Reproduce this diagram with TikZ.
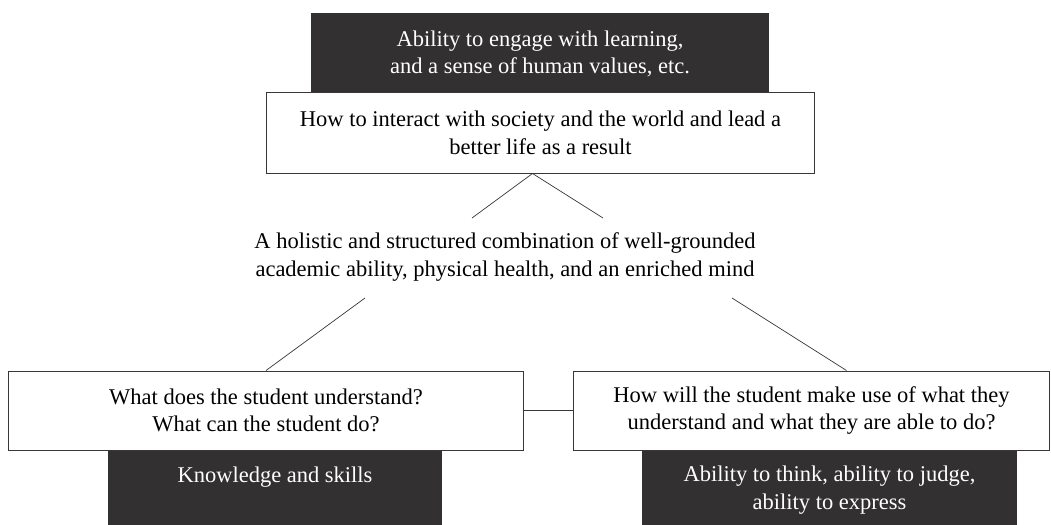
\documentclass[tikz,border=0pt]{standalone}
\usepackage{fontspec}
\setmainfont{Liberation Serif}
\usepackage{tikz}
\definecolor{boxDark}{RGB}{51, 48, 49}
\definecolor{lineGray}{RGB}{55, 55, 55}

\begin{document}
\begin{tikzpicture}[x=0.025cm, y=-0.025cm,
    font=\fontsize{16}{19.5}\selectfont,
    darkbox/.style={fill=boxDark, text=white, inner sep=0pt},
    whitebox/.style={draw=lineGray, line width=0.7pt, fill=white, align=center, inner sep=0pt},
    link/.style={draw=lineGray, line width=0.5pt}]
        \useasboundingbox (0,0) rectangle (1051,525);
        % dark labels sit behind the white boxes
        \node (goal) [darkbox, align=center, minimum width=11.45cm, minimum height=2.05cm]
          at (540,54) {Ability to engage with learning,\\and a sense of human values, etc.};
        \node (skills) [darkbox, anchor=north, minimum width=8.35cm, inner ysep=10.7pt,
          text height=12pt, text depth=26pt] at (275,450) {Knowledge and skills};
        \node (judge) [darkbox, align=center, minimum width=9.375cm, minimum height=2cm]
          at (829.5,490) {Ability to think, ability to judge,\\ability to express};
        \node (life) [whitebox, minimum width=13.675cm, minimum height=2cm]
          at (540.5,133) {How to interact with society and the world and lead a\\better life as a result};
        \node (core) [align=center] at (505,257)
          {A holistic and structured combination of well-grounded\\academic ability, physical health, and an enriched mind};
        \node (know) [whitebox, minimum width=12.85cm, minimum height=1.975cm]
          at (266,410.5) {What does the student understand?\\What can the student do?};
        \node (use) [whitebox, minimum width=11.875cm, minimum height=1.975cm]
          at (811.5,410.5) {How will the student make use of what they\\understand and what they are able to do?};
        \coordinate (apex) at ([xshift=-0.2cm]life.south);
        \coordinate (coreNW) at (472,218);
        \coordinate (coreNE) at (603,218);
        \coordinate (coreSW) at (365,298);
        \coordinate (coreSE) at (732,298);
        \draw[link] (coreNW) -- (apex) -- (coreNE);
        \draw[link] (coreSW) -- (know.north);
        \draw[link] (coreSE) -- ([xshift=0.875cm]use.north);
        \draw[link] (know.east) -- (know.east -| use.west);
      \end{tikzpicture}
\end{document}
